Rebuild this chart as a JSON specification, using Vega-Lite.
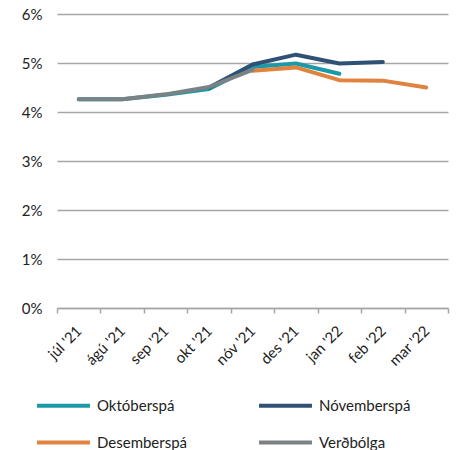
{
  "$schema": "https://vega.github.io/schema/vega-lite/v6.json",
  "width": 391,
  "height": 294,
  "autosize": {"type": "none"},
  "padding": {"left": 57, "top": 14, "right": 8, "bottom": 142},
  "background": "white",
  "config": {
    "font": "Lato",
    "view": {"stroke": null}
  },
  "data": {
    "values": [
      {"m": "júl '21", "s": "Októberspá", "v": 4.26},
      {"m": "ágú '21", "s": "Októberspá", "v": 4.26},
      {"m": "sep '21", "s": "Októberspá", "v": 4.35},
      {"m": "okt '21", "s": "Októberspá", "v": 4.47},
      {"m": "nóv '21", "s": "Októberspá", "v": 4.92},
      {"m": "des '21", "s": "Októberspá", "v": 4.99},
      {"m": "jan '22", "s": "Októberspá", "v": 4.78},
      {"m": "okt '21", "s": "Nóvemberspá", "v": 4.5},
      {"m": "nóv '21", "s": "Nóvemberspá", "v": 4.97},
      {"m": "des '21", "s": "Nóvemberspá", "v": 5.17},
      {"m": "jan '22", "s": "Nóvemberspá", "v": 4.99},
      {"m": "feb '22", "s": "Nóvemberspá", "v": 5.02},
      {"m": "nóv '21", "s": "Desemberspá", "v": 4.84},
      {"m": "des '21", "s": "Desemberspá", "v": 4.91},
      {"m": "jan '22", "s": "Desemberspá", "v": 4.65},
      {"m": "feb '22", "s": "Desemberspá", "v": 4.64},
      {"m": "mar '22", "s": "Desemberspá", "v": 4.5},
      {"m": "júl '21", "s": "Verðbólga", "v": 4.26},
      {"m": "ágú '21", "s": "Verðbólga", "v": 4.26},
      {"m": "sep '21", "s": "Verðbólga", "v": 4.36},
      {"m": "okt '21", "s": "Verðbólga", "v": 4.51},
      {"m": "nóv '21", "s": "Verðbólga", "v": 4.86}
    ]
  },
  "mark": {"type": "line", "strokeWidth": 4, "strokeCap": "round", "strokeJoin": "round"},
  "encoding": {
    "x": {
      "field": "m",
      "type": "ordinal",
      "sort": null,
      "scale": {"type": "band", "paddingInner": 0, "paddingOuter": 0},
      "axis": {
        "title": null,
        "labelAngle": -45,
        "labelAlign": "right",
        "labelBaseline": "middle",
        "labelFontSize": 15,
        "labelColor": "#222222",
        "labelPadding": 15,
        "tickBand": "extent",
        "tickSize": 5,
        "tickColor": "#a6a6a6",
        "domainColor": "#a6a6a6",
        "domainWidth": 1.5,
        "tickWidth": 1.5,
        "grid": false
      }
    },
    "y": {
      "field": "v",
      "type": "quantitative",
      "scale": {"domain": [0, 6], "nice": false},
      "axis": {
        "title": null,
        "values": [0, 1, 2, 3, 4, 5, 6],
        "labelExpr": "datum.value + '%'",
        "labelFontSize": 15,
        "labelColor": "#222222",
        "labelPadding": 15,
        "domain": false,
        "ticks": false,
        "grid": true,
        "gridColor": "#a6a6a6",
        "gridWidth": 1.5
      }
    },
    "color": {
      "field": "s",
      "type": "nominal",
      "sort": null,
      "scale": {
        "domain": ["Októberspá", "Nóvemberspá", "Desemberspá", "Verðbólga"],
        "range": ["#1a9aa8", "#2f5175", "#e0833f", "#7a8285"]
      },
      "legend": {
        "title": null,
        "orient": "none",
        "legendX": -22,
        "legendY": 363,
        "direction": "horizontal",
        "columns": 2,
        "gridAlign": "all",
        "columnPadding": 62,
        "rowPadding": -23,
        "symbolType": "stroke",
        "symbolSize": 2800,
        "symbolStrokeWidth": 4,
        "labelFontSize": 15,
        "labelColor": "#222222",
        "labelOffset": 5
      }
    }
  }
}
